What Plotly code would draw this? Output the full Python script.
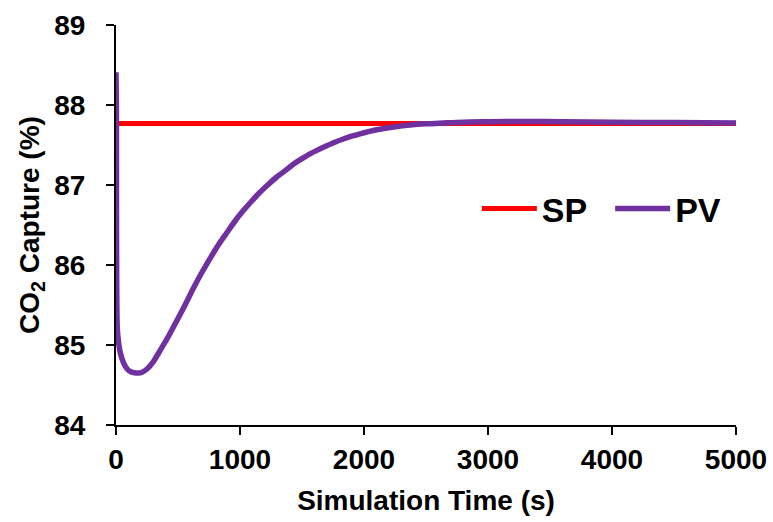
import plotly.graph_objects as go

# Data
sp_time = [0, 5000]
sp_value = [87.77, 87.77]

pv_time = [0, 3, 10, 20, 35, 60, 90, 120, 150, 180, 210, 250, 300, 355, 420, 489, 560,
           624, 690, 758, 825, 892, 960, 1027, 1095, 1161, 1230, 1296, 1365, 1430,
           1500, 1565, 1630, 1699, 1765, 1833, 1900, 1968, 2102, 2240, 2371, 2500,
           2640, 2800, 3000, 3300, 3600, 4000, 4500, 5000]
pv_value = [88.41, 88.0, 85.22, 85.04, 84.9, 84.78, 84.7, 84.665, 84.652, 84.65,
            84.66, 84.7, 84.79, 84.93, 85.1, 85.3, 85.51, 85.71, 85.9, 86.08,
            86.25, 86.4, 86.55, 86.68, 86.8, 86.91, 87.01, 87.1, 87.18, 87.26,
            87.33, 87.39, 87.44, 87.49, 87.535, 87.575, 87.61, 87.64, 87.69,
            87.725, 87.75, 87.765, 87.775, 87.785, 87.79, 87.795, 87.79, 87.785,
            87.78, 87.775]

x_ticks = [0, 1000, 2000, 3000, 4000, 5000]
y_ticks = [84, 85, 86, 87, 88, 89]

FONT = "Liberation Sans, Arial, sans-serif"
LEG_FONT = dict(size=34, family=FONT, weight="bold")

fig = go.Figure()
fig.add_trace(go.Scatter(x=sp_time, y=sp_value, mode="lines", name="SP",
                         line=dict(color="#FF0000", width=5), legend="legend",
                         showlegend=True))
fig.add_trace(go.Scatter(x=pv_time, y=pv_value, mode="lines", name="PV",
                         line=dict(color="#7030A0", width=5.5, shape="spline",
                                   smoothing=0.8),
                         legend="legend2", showlegend=True))

fig.update_layout(
    width=773, height=522, showlegend=True,
    margin=dict(l=116, r=37, t=25, b=97, autoexpand=False),
    paper_bgcolor="white", plot_bgcolor="white",
    font=dict(family=FONT, size=28, color="black", weight="bold"),
    legend=dict(x=0.582, y=0.54, xanchor="left", yanchor="middle",
                font=LEG_FONT, bgcolor="rgba(0,0,0,0)", itemwidth=55),
    legend2=dict(x=0.797, y=0.54, xanchor="left", yanchor="middle",
                 font=LEG_FONT, bgcolor="rgba(0,0,0,0)", itemwidth=55),
    xaxis=dict(range=[0, 5000], tickvals=x_ticks, showgrid=False, zeroline=False,
               showline=True, linecolor="black", linewidth=2, automargin=False,
               ticks="outside", ticklen=8, tickwidth=2, tickcolor="black",
               title=dict(text="Simulation Time (s)", standoff=17,
                          font=dict(size=28, family=FONT, weight="bold"))),
    yaxis=dict(range=[84, 89], tickvals=y_ticks, showgrid=False, zeroline=False,
               showline=True, linecolor="black", linewidth=2, automargin=False,
               ticks="outside", ticklen=8, tickwidth=2, tickcolor="black",
               ticklabelstandoff=15,
               title=dict(text="CO<sub>2</sub> Capture (%)", standoff=6,
                          font=dict(size=28, family=FONT, weight="bold"))),
)

fig.write_html("out.html", config={"displayModeBar": False},
               post_script="document.body.style.margin='0';document.body.style.padding='0';")
